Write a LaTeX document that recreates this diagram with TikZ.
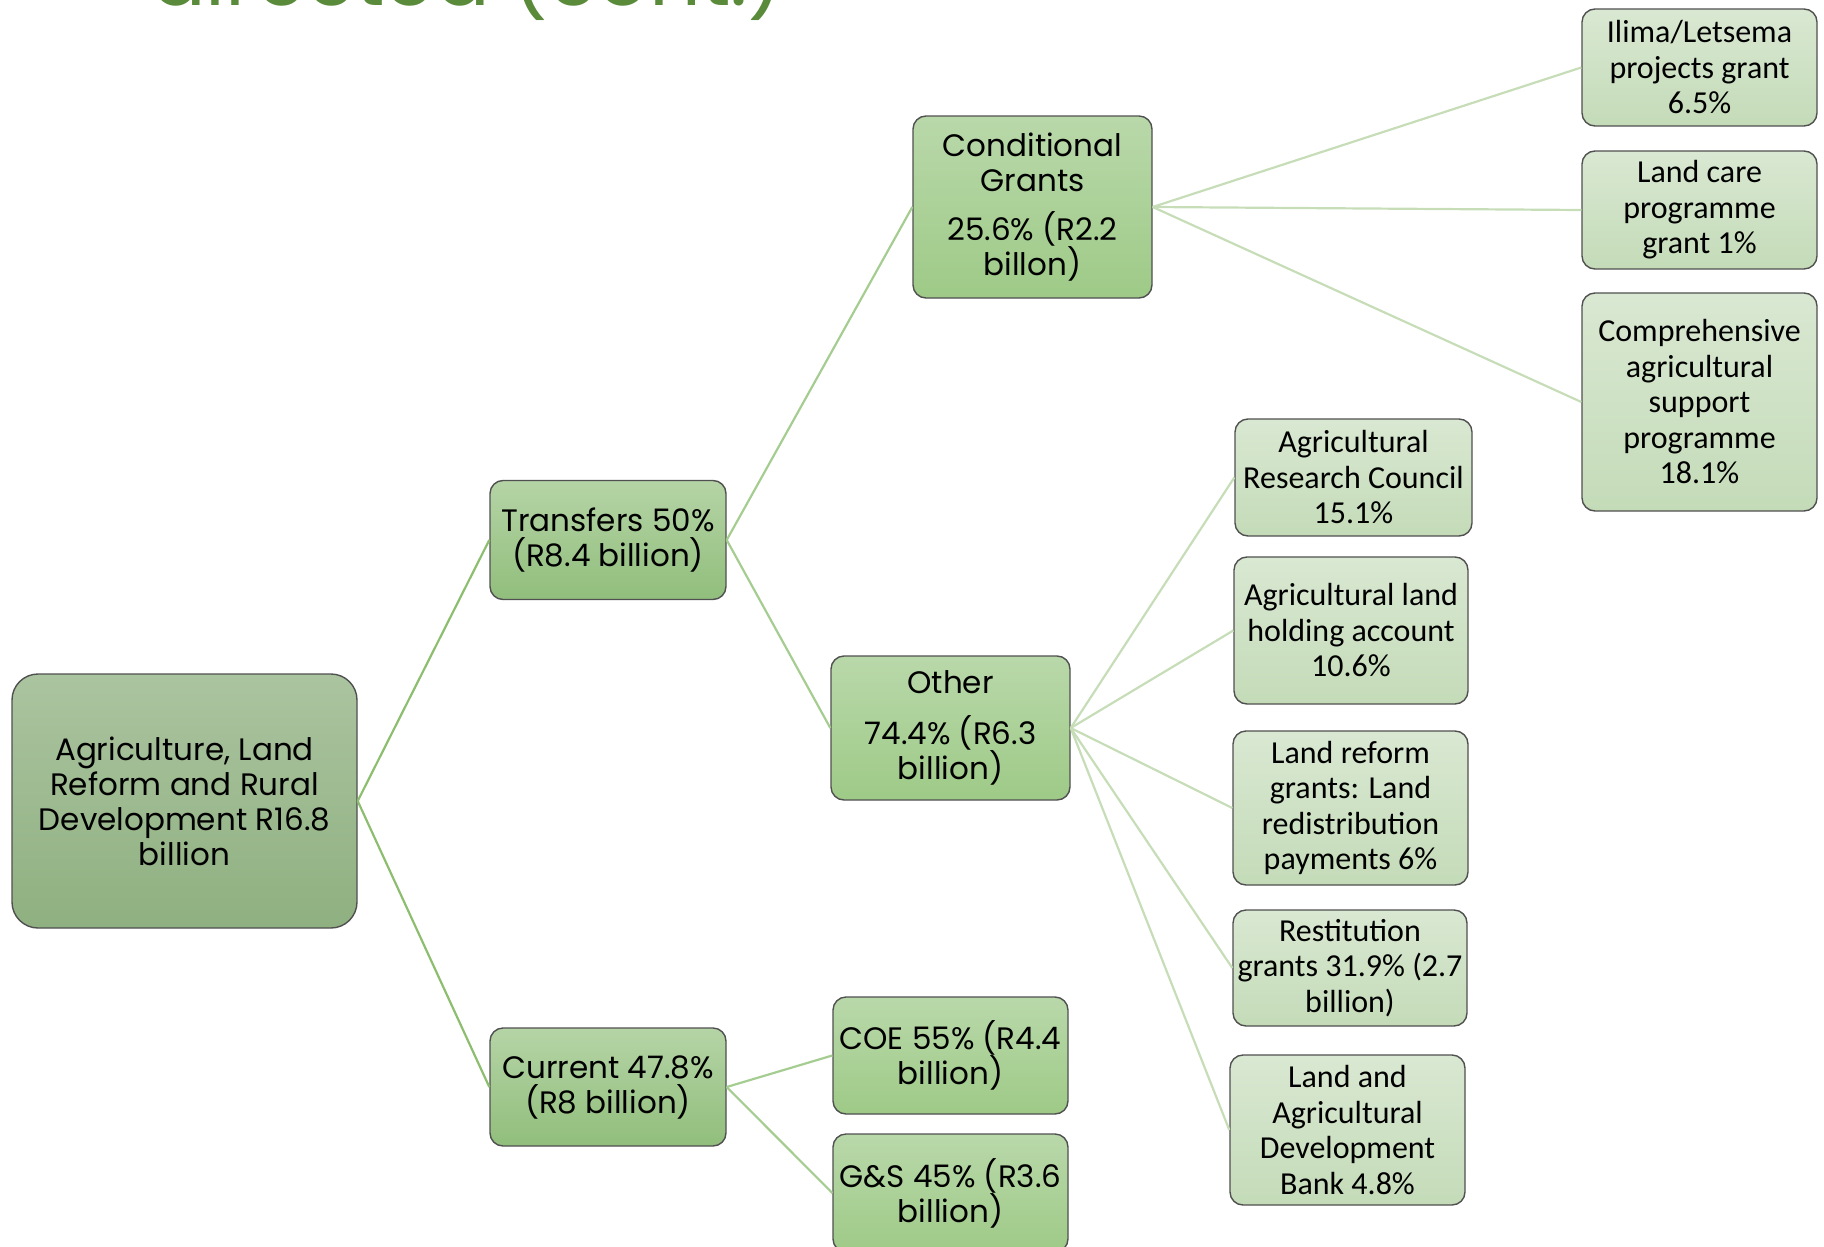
\documentclass[tikz,border=0pt]{standalone}
\usepackage{fontspec}
\newfontfamily\gothic{Poppins}
\newfontfamily\calib{Carlito}
\definecolor{titlegreen}{HTML}{5A8B3A}
\definecolor{boxborder}{HTML}{505050}
\definecolor{rootTop}{HTML}{ABC4A0}
\definecolor{rootBot}{HTML}{8FB080}
\definecolor{lvlOneTop}{HTML}{B5D4A6}
\definecolor{lvlOneBot}{HTML}{91BE7C}
\definecolor{lvlTwoTop}{HTML}{B9D8AA}
\definecolor{lvlTwoBot}{HTML}{9ECA87}
\definecolor{leafTop}{HTML}{D9E8D2}
\definecolor{leafBot}{HTML}{C4DBB8}
\definecolor{lineA}{HTML}{8DBE70}
\definecolor{lineB}{HTML}{A6CD91}
\definecolor{lineC}{HTML}{C6DDB8}
\tikzset{
  x=1pt, y=-1pt,
  basebox/.style={draw=boxborder, line width=1.4pt, align=center, inner sep=1pt, text=black},
  rootbox/.style={basebox, rounded corners=26pt, top color=rootTop, bottom color=rootBot,
    font=\gothic\fontsize{31}{35}\selectfont},
  onebox/.style={basebox, rounded corners=13pt, top color=lvlOneTop, bottom color=lvlOneBot,
    font=\gothic\fontsize{31}{35}\selectfont},
  twobox/.style={basebox, rounded corners=13pt, top color=lvlTwoTop, bottom color=lvlTwoBot,
    font=\gothic\fontsize{31}{35}\selectfont},
  leafbox/.style={basebox, rounded corners=13pt, top color=leafTop, bottom color=leafBot,
    font=\calib\fontsize{32}{35.5}\selectfont},
  sz/.style 2 args={minimum width=#1pt, minimum height=#2pt},
  linkA/.style={draw=lineA, line width=2.2pt},
  linkB/.style={draw=lineB, line width=2.2pt},
  linkC/.style={draw=lineC, line width=2.2pt},
}
\begin{document}
\begin{tikzpicture}
\useasboundingbox (0,0) rectangle (1824,1247);
\begin{scope}
\clip (0,0) rectangle (1824,1247);
% title (mostly cut off at the top)
\node[anchor=base west, inner sep=0pt, text=titlegreen, font=\gothic\fontsize{81}{96}\selectfont] (title) at (151,6) {directed (cont.)};

% nodes
\node[rootbox, sz={345}{254}] (root) at (184.5,801) {Agriculture, Land\\Reform and Rural\\Development R16.8\\billion};
\node[onebox, sz={236}{119}] (trans) at (608,540) {Transfers 50\%\\(R8.4 billion)};
\node[onebox, sz={236}{118}] (curr) at (608,1087) {Current 47.8\%\\(R8 billion)};
\node[twobox, sz={239}{182}] (cond) at (1032.5,207) {Conditional\\Grants\\[14pt]25.6\% (R2.2\\billon)};
\node[twobox, sz={239}{144}] (other) at (950.5,728) {Other\\[16pt]74.4\% (R6.3\\billion)};
\node[twobox, sz={235}{117}] (coe) at (950.5,1055.5) {COE 55\% (R4.4\\billion)};
\node[twobox, sz={235}{118}] (gs) at (950.5,1193) {G\&S 45\% (R3.6\\billion)};

\node[leafbox, sz={235}{117}] (ilima) at (1699.5,67.5) {Ilima/Letsema\\projects grant\\6.5\%};
\node[leafbox, sz={235}{118}] (landcare) at (1699.5,210) {Land care\\programme\\grant 1\%};
\node[leafbox, sz={235}{218}] (casp) at (1699.5,402) {Comprehensive\\agricultural\\support\\programme\\18.1\%};
\node[leafbox, sz={237}{117}] (arc) at (1353.5,477.5) {Agricultural\\Research Council\\15.1\%};
\node[leafbox, sz={234}{147}] (alha) at (1351,630.5) {Agricultural land\\holding account\\10.6\%};
\node[leafbox, sz={235}{154}] (lrg) at (1350.5,808) {Land reform\\grants: Land\\redistribution\\payments 6\%};
\node[leafbox, sz={234}{116}] (rest) at (1350,968) {Restitution\\grants 31.9\% (2.7\\billion)};
\node[leafbox, sz={235}{150}] (ladb) at (1347.5,1130) {Land and\\Agricultural\\Development\\Bank 4.8\%};

% connectors
\draw[linkA] (root.east) -- (trans.west);
\draw[linkA] (root.east) -- (curr.west);
\draw[linkB] (trans.east) -- (cond.west);
\draw[linkB] (trans.east) -- (other.west);
\draw[linkB] (curr.east) -- (coe.west);
\draw[linkB] (curr.east) -- (gs.west);
\draw[linkC] (cond.east) -- (ilima.west);
\draw[linkC] (cond.east) -- (landcare.west);
\draw[linkC] (cond.east) -- (casp.west);
\draw[linkC] (other.east) -- (arc.west);
\draw[linkC] (other.east) -- (alha.west);
\draw[linkC] (other.east) -- (lrg.west);
\draw[linkC] (other.east) -- (rest.west);
\draw[linkC] (other.east) -- (ladb.west);
\end{scope}
\end{tikzpicture}
\end{document}
